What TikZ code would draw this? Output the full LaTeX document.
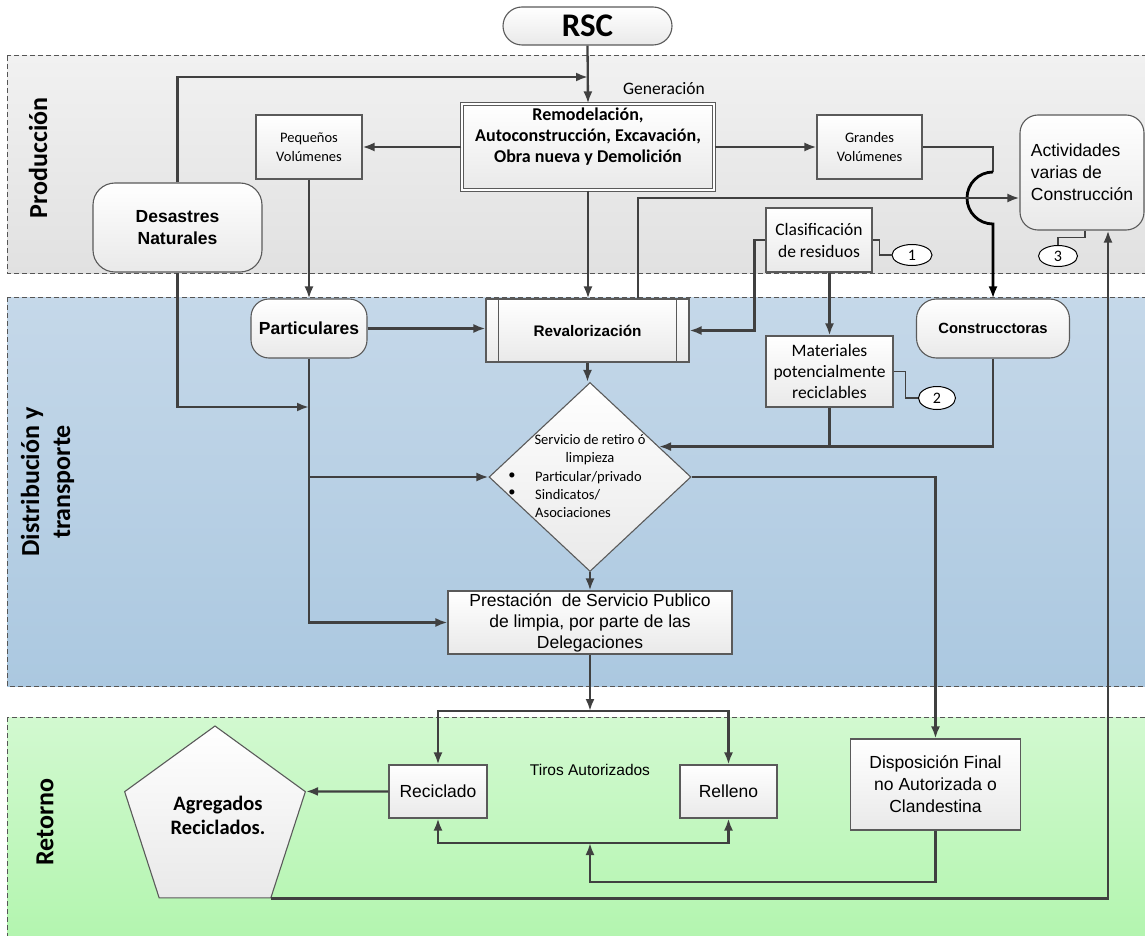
\documentclass[tikz,border=0pt]{standalone}
\usepackage{fontspec}
\usetikzlibrary{arrows.meta,shapes.geometric,calc}
\newfontfamily\calfont{Carlito}
\newfontfamily\arifont{Liberation Sans}
\newcommand\fsz[2]{\fontsize{#1}{#2}\selectfont}
\definecolor{ln}{HTML}{404040}
\definecolor{bd}{HTML}{5A5A5A}
\definecolor{laneline}{HTML}{555555}
\definecolor{prodtop}{HTML}{F1F1F1}
\definecolor{prodbot}{HTML}{E1E1E1}
\definecolor{disttop}{HTML}{C5D8E9}
\definecolor{distbot}{HTML}{ABC8E0}
\definecolor{rettop}{HTML}{D2F9D0}
\definecolor{retbot}{HTML}{B2F5AE}
\definecolor{boxbot}{HTML}{E9E9E9}
\begin{document}
\begin{tikzpicture}[x=1pt,y=-1pt,
  lane/.style={draw=laneline, line width=1pt, dash pattern=on 5pt off 3pt},
  lanelab/.style={font=\calfont\bfseries\fsz{26}{31}, align=center, inner sep=0pt},
  box/.style={draw=bd, line width=1.1pt, top color=white, bottom color=boxbot, inner sep=0pt, align=center},
  note/.style={ellipse, draw=black, line width=1pt, fill=white, inner sep=0pt, minimum width=40, minimum height=21, font=\calfont\fsz{16}{18}},
  conn/.style={draw=ln, line width=2.3pt, -{Latex[length=12pt,width=9pt]}},
  plain/.style={draw=ln, line width=2.3pt},
  thinline/.style={draw=ln, line width=1.2pt},
  txt/.style={inner sep=0pt, align=center}
]
\useasboundingbox (0,0) rectangle (1145,936);
\fill[white] (0,0) rectangle (1145,936);

% swimlanes
\draw[lane, top color=prodtop, bottom color=prodbot] (7,56) rectangle (1152,273);
\draw[lane, top color=disttop, bottom color=distbot] (7,297) rectangle (1152,686);
\draw[lane, top color=rettop, bottom color=retbot] (7,717) rectangle (1152,945);

\node[lanelab, rotate=90] (labP) at (38,158) {Producción};
\node[lanelab, rotate=90] (labD) at (47.5,482) {Distribución y\\transporte};
\node[lanelab, rotate=90] (labR) at (45,822) {Retorno};

% nodes
\node[box, rounded corners=19, minimum width=169, minimum height=38, font=\calfont\bfseries\fsz{33}{36}] (rsc) at (587.5,26) {RSC};
\node[box, double=white, double distance=2.2pt, minimum width=252, minimum height=86] (gen) at (588,147) {};
\node[txt, font=\calfont\bfseries\fsz{18}{21}] (gentext) at (588,137) {Remodelación,\\Autoconstrucción, Excavación,\\Obra nueva y Demolición};
\node[txt, font=\calfont\fsz{17.5}{21}] (genlab) at (664,89) {Generación};

\node[box, minimum width=106, minimum height=64, font=\calfont\fsz{14.5}{19}] (peq) at (309,147) {Pequeños\\Volúmenes};
\node[box, minimum width=105, minimum height=64, font=\calfont\fsz{14.5}{19}] (gra) at (869.5,147) {Grandes\\Volúmenes};
\node[box, rounded corners=18, minimum width=124, minimum height=115, align=left, font=\arifont\fsz{17.5}{22}] (act) at (1082,172.5) {Actividades\\varias de\\Construcción};
\node[box, rounded corners=22, minimum width=169, minimum height=89, font=\arifont\bfseries\fsz{17.5}{22}] (des) at (177.5,227.5) {Desastres\\Naturales};
\node[box, minimum width=106, minimum height=64, font=\calfont\fsz{17.5}{22}] (cla) at (819,240) {Clasificación\\de residuos};
\node[note] (c1) at (912,255) {1};
\node[note, minimum width=39] (c3) at (1058,256) {3};

\node[box, rounded corners=18, minimum width=116, minimum height=59, font=\arifont\bfseries\fsz{17.5}{21}] (par) at (309,328.5) {Particulares};
\node[box, minimum width=203, minimum height=63, font=\arifont\bfseries\fsz{15.3}{18}] (rev) at (587.5,330.5) {Revalorización};
\draw[draw=bd, line width=1.1pt] ($(rev.north west)+(13,0)$) -- ($(rev.south west)+(13,0)$);
\draw[draw=bd, line width=1.1pt] ($(rev.north east)+(-13,0)$) -- ($(rev.south east)+(-13,0)$);
\node[box, rounded corners=20, minimum width=153, minimum height=59, font=\arifont\bfseries\fsz{14.8}{18}] (con) at (993,328.5) {Construcctoras};
\node[box, minimum width=127, minimum height=71, font=\calfont\fsz{17.5}{21}] (mat) at (829.5,371.5) {Materiales\\potencialmente\\reciclables};
\node[note, minimum width=37, minimum height=23] (c2) at (937,398) {2};

\node[box, diamond, minimum width=202, minimum height=189] (dia) at (590,477) {};
\node[txt, font=\calfont\fsz{14.5}{18}] (dt1) at (590,450) {Servicio de retiro ó\\limpieza};
\node[txt, anchor=west, align=left, font=\calfont\fsz{14.5}{18}] (dt2) at (535,495) {Particular/privado\\Sindicatos/\\Asociaciones};
\node[txt, font=\calfont\fsz{14.5}{18}] (b1) at (512,476) {•};
\node[txt, font=\calfont\fsz{14.5}{18}] (b2) at (512,493) {•};

\node[box, minimum width=284, minimum height=63, font=\arifont\fsz{17.5}{21}] (pre) at (590,622.5) {Prestación\ \ de Servicio Publico\\de limpia, por parte de las\\Delegaciones};

\node[box, minimum width=98, minimum height=53, font=\arifont\fsz{17.5}{21}] (rec) at (438,791.5) {Reciclado};
\node[box, minimum width=97, minimum height=53, font=\arifont\fsz{17.5}{21}] (rel) at (728.5,791.5) {Relleno};
\node[txt, font=\arifont\fsz{15.5}{18}] (tiros) at (590,770) {Tiros Autorizados};
\node[box, minimum width=170, minimum height=91, font=\arifont\fsz{17.5}{22}] (dis) at (935.5,784.5) {Disposición Final\\no Autorizada o\\Clandestina};
\node[box, regular polygon, regular polygon sides=5, minimum size=190] (pen) at (215,821) {};
\node[txt, font=\calfont\bfseries\fsz{20.5}{24}] (agr) at (218,815) {Agregados\\Reciclados.};

% connectors: production
\draw[conn] (rsc.south) -- (gen.north);
\coordinate (jA) at (588,77);
\draw[conn] (des.north) |- (jA);
\draw[conn] (gen.west) -- (peq.east);
\draw[conn] (gen.east) -- (gra.west);
\coordinate (jB) at (993,172);
\draw[plain] (gra.east) -| (jB);
\draw[black, line width=2.8pt, -{Latex[length=12pt,width=9pt]}] (jB) arc[start angle=270, end angle=90, radius=26] -- (con.north);
\coordinate (actIn) at (act.west |- 0,198);
\draw[conn] ($(rev.north)+(50.5,0)$) |- (actIn);
\draw[conn] (gen.south) -- (gen.south |- rev.north);
\draw[conn] (peq.south) -- (par.north);
\draw[conn] (par.east) -- (par.east -| rev.west);
\draw[conn] (cla.west) -- ++(-11,0) |- (rev.east);
\draw[conn] (cla.south -| mat.north) -- (mat.north);

% note callouts
\draw[thinline] (cla.east) -- ++(7,0) |- (c1.west);
\draw[thinline] (mat.east) -- ++(12,0) |- (c2.west);
\draw[thinline] (act.south -| 1085,0) -- ++(0,7) -| (c3.north);

% connectors: distribution
\coordinate (dIn) at ($(dia.north)!0.68!(dia.east)$);
\draw[conn] (con.south) |- (dIn);
\draw[plain] (mat.south) -- (mat.south |- dIn);
\draw[conn] (rev.south) -- (rev.south |- dia.north);
\coordinate (jE) at (par.south |- 0,407);
\draw[conn] (des.south) |- (jE);
\draw[conn] (par.south) |- (pre.west);
\draw[conn] (par.south |- dia.west) -- (dia.west);
\draw[conn] (dia.south) -- (pre.north);
\draw[conn] (dia.east) -| (dis.north);

% connectors: return
\coordinate (jF) at (pre.south |- 0,711);
\draw[conn] (pre.south) -- (jF);
\draw[conn] (jF) -| (rec.north);
\draw[conn] (jF) -| (rel.north);
\draw[conn] (rec.west) -- (pen.corner 5);
\coordinate (jH) at (pre.south |- 0,843);
\draw[conn] (dis.south) |- (pre.south |- 0,882) -- (jH);
\draw[conn] (jH) -| (rec.south);
\draw[conn] (jH) -| (rel.south);
\draw[conn] (pen.corner 4) -| (act.south -| 1108,0);
\end{tikzpicture}
\end{document}
